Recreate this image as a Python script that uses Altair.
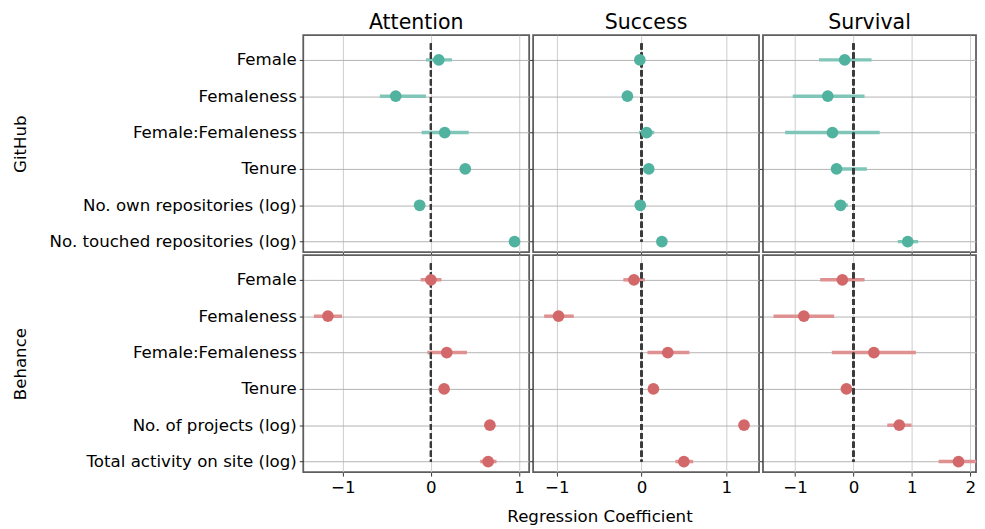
import json
import altair as alt
import pandas as pd

columns = ["Attention", "Success", "Survival"]
rows = ["GitHub", "Behance"]

github_vars = ["Female", "Femaleness", "Female:Femaleness", "Tenure",
               "No. own repositories (log)", "No. touched repositories (log)"]
behance_vars = ["Female", "Femaleness", "Female:Femaleness", "Tenure",
                "No. of projects (log)", "Total activity on site (log)"]

# GitHub
gh_att_est = [0.09, -0.40, 0.157, 0.39, -0.128, 0.95]
gh_att_lo = [-0.056, -0.58, -0.105, 0.36, -0.16, 0.92]
gh_att_hi = [0.24, -0.056, 0.43, 0.42, -0.10, 0.98]

gh_suc_est = [-0.02, -0.167, 0.06, 0.085, -0.015, 0.24]
gh_suc_lo = [-0.05, -0.19, -0.03, 0.06, -0.04, 0.21]
gh_suc_hi = [0.01, -0.14, 0.15, 0.11, 0.01, 0.27]

gh_sur_est = [-0.15, -0.44, -0.36, -0.29, -0.22, 0.93]
gh_sur_lo = [-0.59, -1.04, -1.17, -0.33, -0.33, 0.76]
gh_sur_hi = [0.31, 0.19, 0.45, 0.23, -0.095, 1.11]

# Behance
be_att_est = [0.00, -1.17, 0.18, 0.15, 0.67, 0.65]
be_att_lo = [-0.116, -1.33, -0.04, 0.12, 0.64, 0.56]
be_att_hi = [0.12, -1.01, 0.41, 0.18, 0.70, 0.745]

be_suc_est = [-0.09, -0.98, 0.31, 0.14, 1.21, 0.50]
be_suc_lo = [-0.215, -1.15, 0.07, 0.11, 1.18, 0.40]
be_suc_hi = [0.04, -0.80, 0.565, 0.17, 1.24, 0.61]

be_sur_est = [-0.19, -0.85, 0.35, -0.12, 0.785, 1.80]
be_sur_lo = [-0.57, -1.37, -0.37, -0.17, 0.58, 1.46]
be_sur_hi = [0.19, -0.33, 1.07, -0.07, 0.995, 2.30]

x_domains = {"Attention": [-1.45, 1.116], "Success": [-1.28, 1.387], "Survival": [-1.55, 2.10]}
x_ticks = {"Attention": [-1, 0, 1], "Success": [-1, 0, 1], "Survival": [-1, 0, 1, 2]}
widths = {"Attention": 228, "Success": 228, "Survival": 215}

row_vars = {"GitHub": github_vars, "Behance": behance_vars}
row_data = {
    "GitHub": {"Attention": (gh_att_est, gh_att_lo, gh_att_hi),
               "Success": (gh_suc_est, gh_suc_lo, gh_suc_hi),
               "Survival": (gh_sur_est, gh_sur_lo, gh_sur_hi)},
    "Behance": {"Attention": (be_att_est, be_att_lo, be_att_hi),
                "Success": (be_suc_est, be_suc_lo, be_suc_hi),
                "Survival": (be_sur_est, be_sur_lo, be_sur_hi)},
}
point_colors = {"GitHub": "#52b2a0", "Behance": "#d3686a"}
ci_colors = {"GitHub": "#80c6b8", "Behance": "#df9192"}

FONT = "DejaVu Sans"
FS = 16.8


def panel(row, col):
    est, lo, hi = row_data[row][col]
    vars_ = row_vars[row]
    df = pd.DataFrame({"idx": list(range(len(vars_))), "est": est, "lo": lo, "hi": hi})
    first_col = col == columns[0]
    top_row = row == rows[0]

    xscale = alt.Scale(domain=x_domains[col], nice=False, zero=False, clamp=True)
    yscale = alt.Scale(domain=[-0.68, 5.29], reverse=True, nice=False, zero=False)

    if first_col:
        label_expr = json.dumps(vars_) + "[datum.value]"
        yaxis = alt.Axis(values=list(range(6)), labelExpr=label_expr, title=row,
                         titleX=-280, titleBaseline="alphabetic", titleFontSize=FS,
                         titleFontWeight="normal", titleColor="black",
                         labelFontSize=FS, labelColor="black", labelPadding=3,
                         labelLimit=400,
                         tickSize=4, tickColor="#333", domain=False,
                         grid=True, gridColor="#b3b3b3", gridWidth=1)
    else:
        yaxis = alt.Axis(values=list(range(6)), labels=False, title=None,
                         tickSize=4, tickColor="#333", domain=False,
                         grid=True, gridColor="#b3b3b3", gridWidth=1)

    if top_row:
        xaxis = alt.Axis(values=x_ticks[col], labels=False, title=None,
                         tickSize=3, tickColor="#333", domain=False,
                         grid=True, gridColor="#cccccc", gridWidth=1)
    else:
        kw = dict(title=None)
        if col == "Success":
            kw = dict(title="Regression Coefficient", titleX=67, titleFontSize=FS,
                      titleFontWeight="normal", titleColor="black", titlePadding=12)
        xaxis = alt.Axis(values=x_ticks[col], format="d", labelFontSize=FS,
                         labelColor="black", labelPadding=4,
                         tickSize=4, tickColor="#333", domain=False,
                         grid=True, gridColor="#cccccc", gridWidth=1, **kw)

    base = alt.Chart(df)
    ci = base.mark_rule(strokeWidth=3.5, color=ci_colors[row], clip=True).encode(
        x=alt.X("lo:Q", scale=xscale, axis=xaxis),
        x2="hi:Q",
        y=alt.Y("idx:Q", scale=yscale, axis=yaxis),
    )
    zero = base.mark_rule(strokeWidth=2, color="#3a3a3a", strokeDash=[6, 3]).encode(
        x=alt.datum(0), y=alt.datum(-0.45), y2=alt.datum(5)
    )
    pts = base.mark_circle(size=140, opacity=1, color=point_colors[row], clip=True).encode(
        x="est:Q", y="idx:Q"
    )
    ch = alt.layer(ci, zero, pts).properties(width=widths[col], height=219)
    if top_row:
        ch = ch.properties(title=alt.TitleParams(text=col, fontSize=20.7, fontWeight="normal",
                                                 font=FONT, color="black", offset=1.5))
    return ch


charts = [panel(r, c) for r in rows for c in columns]

chart = alt.concat(*charts, columns=3, spacing={"row": 3, "column": 4},
                   bounds="flush", align="each").properties(
    padding={"left": 4, "top": 0, "right": 0, "bottom": 0}
).resolve_scale(x="independent", y="independent").configure(
    font=FONT
).configure_view(
    stroke="#5e5e5e", strokeWidth=1.8
)

chart.save("out.html", embed_options={"renderer": "svg", "actions": False})
